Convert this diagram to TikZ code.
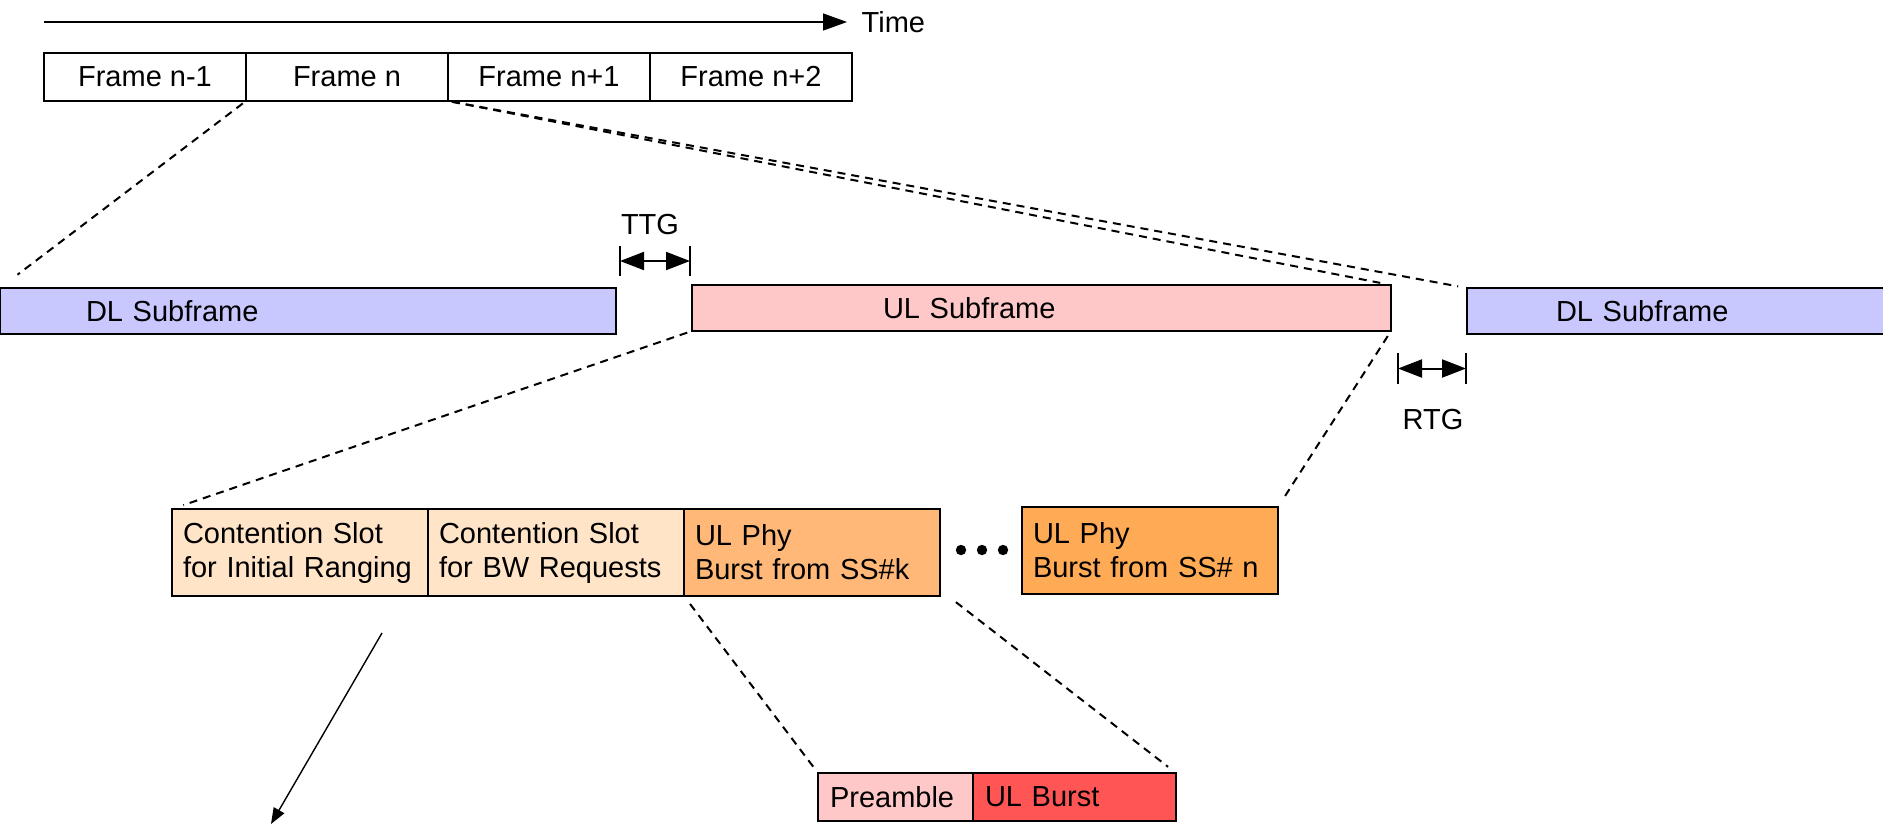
\documentclass[tikz,border=0pt]{standalone}
\usepackage{fontspec}
\setmainfont{Liberation Sans}
\usetikzlibrary{arrows.meta,calc}

\definecolor{dlcol}{HTML}{C8C8FF}
\definecolor{ulcol}{HTML}{FFC8C8}
\definecolor{contcol}{HTML}{FFE4C8}
\definecolor{phykcol}{HTML}{FFB878}
\definecolor{phyncol}{HTML}{FFAA55}
\definecolor{burstcol}{HTML}{FF5555}

\begin{document}
\begin{tikzpicture}[x=0.5pt,y=-0.5pt]
  \useasboundingbox (0,0) rectangle (1883,825);
  \tikzstyle{every node}=[font=\fontsize{14.5}{17}\selectfont]
  \tikzstyle{box}=[draw,line width=1.1pt,inner sep=0pt,outer sep=0pt,anchor=north west]
  \tikzstyle{sub}=[box,minimum height=23pt,align=left]
  \tikzstyle{slot}=[box,minimum width=128pt,minimum height=43.5pt,inner xsep=5.5pt,text width=117pt,align=left]
  \tikzstyle{gap}=[line width=1pt,{Triangle[length=12pt,width=9pt]}-{Triangle[length=12pt,width=9pt]}]
  \tikzstyle{tick}=[line width=1pt]
  \tikzstyle{zoom}=[line width=1pt,dash pattern=on 4pt off 3pt]

%% time axis and frames
  \coordinate (t0) at (44,22);
  \coordinate (t1) at (847,22);
  \draw[line width=0.7pt,-{Triangle[length=12pt,width=8.5pt]}] (t0) -- (t1)
    node[anchor=west,inner sep=0pt,xshift=7pt] (time) {Time};
  \foreach \i/\txt in {0/Frame n-1, 1/Frame n, 2/Frame n+1, 3/Frame n+2}
    \node[box,minimum width=101pt,minimum height=24pt] (frame\i) at (44+202*\i,53) {\txt};

%% subframes of frame n
  \node[sub,fill=dlcol,minimum width=308pt,inner xsep=43pt,text width=222pt] (dl1) at (0,288) {DL Subframe};
  \node[sub,fill=ulcol,minimum width=349.5pt,inner xsep=95.5pt,text width=158.5pt] (ul) at (692,285) {UL Subframe};
  \node[sub,fill=dlcol,minimum width=212pt,inner xsep=44.5pt,text width=123pt] (dl2) at (1467,288) {DL Subframe};

%% TTG / RTG
  \coordinate (ttg-a1) at (620,246); \coordinate (ttg-a2) at (620,276);
  \coordinate (ttg-b1) at (690,246); \coordinate (ttg-b2) at (690,276);
  \draw[tick] (ttg-a1) -- (ttg-a2);
  \draw[tick] (ttg-b1) -- (ttg-b2);
  \draw[gap] ($(ttg-a1)!0.5!(ttg-a2)$) -- ($(ttg-b1)!0.5!(ttg-b2)$);
  \node (ttg) at (650,225) {TTG};
  \coordinate (rtg-a1) at (1398,353); \coordinate (rtg-a2) at (1398,384);
  \coordinate (rtg-b1) at (1466,353); \coordinate (rtg-b2) at (1466,384);
  \draw[tick] (rtg-a1) -- (rtg-a2);
  \draw[tick] (rtg-b1) -- (rtg-b2);
  \draw[gap] ($(rtg-a1)!0.5!(rtg-a2)$) -- ($(rtg-b1)!0.5!(rtg-b2)$);
  \node (rtg) at (1433,420) {RTG};

%% UL subframe contents
  \node[slot,fill=contcol] (slot0) at (172,509) {Contention Slot\\for Initial Ranging};
  \node[slot,fill=contcol] (slot1) at (428,509) {Contention Slot\\for BW Requests};
  \node[slot,fill=phykcol] (slot2) at (684,509) {UL Phy\\Burst from SS\#k};
  \node[slot,fill=phyncol] (slot3) at (1022,507) {UL Phy\\Burst from SS\# n};
  \foreach \x in {961,982,1003}
    \fill (\x,550) circle (2.6pt);

%% burst contents
  \node[box,fill=ulcol,minimum width=77.5pt,minimum height=24pt,inner xsep=6pt,text width=65.5pt,align=left] (pre) at (818,773) {Preamble};
  \node[box,fill=burstcol,minimum width=101.5pt,minimum height=24pt,inner xsep=6pt,text width=89.5pt,align=left] (burst) at (973,773) {UL Burst};

%% zoom lines
  \draw[zoom,shorten <=2pt,shorten >=11pt] (frame1.south west) -- (dl1.north west);
  \draw[zoom,shorten <=2pt,shorten >=5.5pt] (frame2.south west) -- (ul.north east);
  \draw[zoom,shorten <=2pt,shorten >=4.5pt] (frame2.south west) -- (dl2.north west);
  \draw[zoom,shorten <=2.5pt,shorten >=6pt] (ul.south west) -- (slot0.north west);
  \draw[zoom,shorten <=3pt,shorten >=6pt] (ul.south east) -- (slot3.north east);
  \draw[zoom,shorten <=5pt,shorten >=2pt] (slot2.south west) -- (pre.north west);
  \draw[zoom,shorten <=5pt,shorten >=5pt] ([xshift=4pt]slot2.south east) -- (burst.north east);

%% ranging arrow
  \coordinate (rng0) at (382,633);
  \coordinate (rng1) at (271,824);
  \draw[line width=0.7pt,-{Triangle[length=8pt,width=6pt]}] (rng0) -- (rng1);
\end{tikzpicture}
\end{document}
